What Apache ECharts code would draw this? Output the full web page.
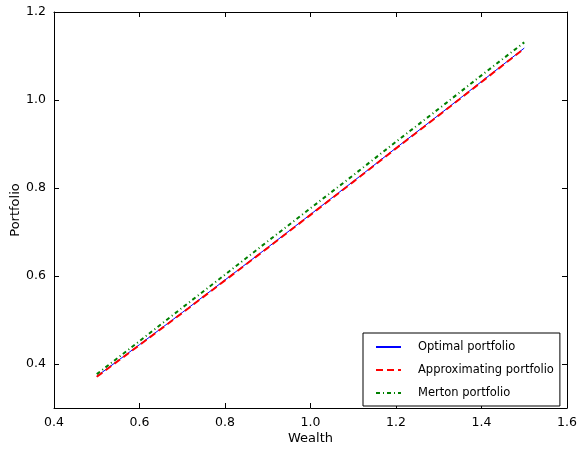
<!DOCTYPE html>
<html><head><meta charset="utf-8">
<script src="https://cdn.jsdelivr.net/npm/echarts@6/dist/echarts.min.js"></script>
<style>html,body{margin:0;padding:0;background:#fff}#c{width:577px;height:451px}</style>
</head><body><div id="c"></div>
<script>
const wealth = [0.5, 0.6, 0.7, 0.8, 0.9, 1.0, 1.1, 1.2, 1.3, 1.4, 1.5];
const optimal = [0.372, 0.444, 0.517, 0.591, 0.665, 0.740, 0.815, 0.891, 0.966, 1.042, 1.118];
const approximating = [0.371, 0.443, 0.516, 0.590, 0.664, 0.739, 0.814, 0.890, 0.965, 1.041, 1.117];
const merton = [0.377, 0.452, 0.528, 0.603, 0.679, 0.754, 0.829, 0.905, 0.980, 1.056, 1.131];
const seriesNames = ['Optimal portfolio', 'Approximating portfolio', 'Merton portfolio'];
const xTicks = [0.4, 0.6, 0.8, 1.0, 1.2, 1.4, 1.6];
const yTicks = [0.4, 0.6, 0.8, 1.0, 1.2];

const font = 'DejaVu Sans';
const pair = (ys) => wealth.map((x, i) => [x, ys[i]]);
const chart = echarts.init(document.getElementById('c'), null, {renderer: 'canvas'});
const tick = (vals) => ({show: true, inside: true, length: 5, lineStyle: {color: '#000'}, customValues: vals});
const axisLine = {show: true, onZero: false, lineStyle: {color: '#000', width: 1}};
const lbl = (vals) => ({fontFamily: font, fontSize: 12.5, color: '#000', margin: 8, customValues: vals, formatter: v => Number(v).toFixed(1)});
chart.setOption({
  animation: false,
  backgroundColor: '#fff',
  grid: {left: 54, top: 12, width: 513, height: 396, containLabel: false, outerBoundsMode: 'none'},
  xAxis: [
    {type: 'value', min: 0.4, max: 1.6, position: 'bottom', axisLine, splitLine: {show: false},
      axisTick: tick(xTicks), axisLabel: lbl(xTicks),
      name: 'Wealth', nameLocation: 'middle', nameGap: 24, nameMoveOverlap: false,
      nameTextStyle: {fontFamily: font, fontSize: 13, color: '#000'}},
    {type: 'value', min: 0.4, max: 1.6, position: 'top', axisLine, splitLine: {show: false},
      axisTick: tick(xTicks), axisLabel: {show: false}}
  ],
  yAxis: [
    {type: 'value', min: 0.3, max: 1.2, position: 'left', axisLine, splitLine: {show: false},
      axisTick: tick(yTicks), axisLabel: lbl(yTicks),
      name: 'Portfolio', nameLocation: 'middle', nameGap: 32, nameMoveOverlap: false,
      nameTextStyle: {fontFamily: font, fontSize: 13, color: '#000'}},
    {type: 'value', min: 0.3, max: 1.2, position: 'right', axisLine, splitLine: {show: false},
      axisTick: tick(yTicks), axisLabel: {show: false}}
  ],
  legend: {
    orient: 'vertical', left: 363, top: 333,
    padding: [8, 6, 7, 12], itemGap: 11, itemWidth: 25, itemHeight: 10,
    borderColor: '#000', borderWidth: 1, backgroundColor: '#fff', borderRadius: 0,
    itemStyle: {opacity: 0},
    textStyle: {fontFamily: font, fontSize: 11.5, color: '#000', padding: [0, 0, 0, 12]},
    data: seriesNames
  },
  series: [
    {name: seriesNames[0], type: 'line', data: pair(optimal), showSymbol: false, symbol: 'none',
      lineStyle: {color: '#0000ff', width: 1}, itemStyle: {color: '#0000ff'}, z: 3},
    {name: seriesNames[1], type: 'line', data: pair(approximating), showSymbol: false, symbol: 'none',
      lineStyle: {color: '#ff0000', width: 2, type: [7, 4]}, itemStyle: {color: '#ff0000'}, z: 4},
    {name: seriesNames[2], type: 'line', data: pair(merton), showSymbol: false, symbol: 'none',
      lineStyle: {color: '#008000', width: 2, type: [4, 3, 1, 3]}, itemStyle: {color: '#008000'}, z: 5}
  ]
});
</script></body></html>
